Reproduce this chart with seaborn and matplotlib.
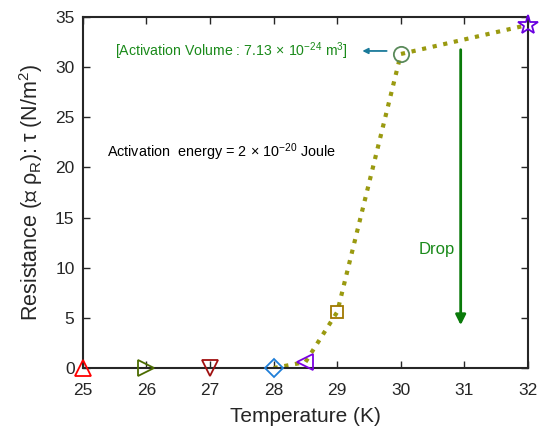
import matplotlib
matplotlib.use("Agg")
import matplotlib.pyplot as plt
import seaborn as sns
import pandas as pd

sns.set_theme(style="ticks")
plt.rcParams['font.family'] = ['Liberation Sans', 'DejaVu Sans']
plt.rcParams['mathtext.fontset'] = 'custom'
plt.rcParams['mathtext.rm'] = 'Liberation Sans'
plt.rcParams['mathtext.it'] = 'Liberation Sans:italic'

temps = [25, 26, 27, 28, 28.5, 29, 30, 32]
resist = [0, 0, 0, 0, 0.6, 5.6, 31.3, 34.2]
markers = ['^', '>', 'v', 'D', '<', 's', 'o', '*']
colors = ['#ff0000', '#4b6b00', '#a01010', '#1f7fd8', '#7a00e0', '#a07800', '#5a8a5a', '#6a00e0']
sizes = [11, 11, 11, 9, 11, 9, 11, 15]
line_t = [28, 28.5, 29, 30, 32]
line_r = [0, 0.6, 5.6, 31.3, 34.2]

fig = plt.figure(figsize=(5.45, 4.32), dpi=100)
ax = fig.add_axes([0.152, 0.148, 0.817, 0.813])

df_line = pd.DataFrame({'T': line_t, 'R': line_r})
sns.lineplot(data=df_line, x='T', y='R', ax=ax, color='#9a9a10', linestyle=(0, (1, 1.6)),
             linewidth=3, zorder=2)

for t, r, m, c, s in zip(temps, resist, markers, colors, sizes):
    ax.plot([t], [r], marker=m, markersize=s, markerfacecolor='none',
            markeredgecolor=c, markeredgewidth=1.3, linestyle='none', zorder=3, clip_on=False)

ax.set_xlim(25, 32)
ax.set_ylim(0, 35)
ax.set_xticks(range(25, 33))
ax.set_yticks(range(0, 36, 5))
ax.tick_params(direction='in', top=True, right=True, labelsize=12.5, length=5, width=1, pad=6)
ax.tick_params(axis='x', pad=11)
for sp in ax.spines.values():
    sp.set_linewidth(1.5)
    sp.set_visible(True)

ax.set_xlabel('Temperature (K)', fontsize=15, labelpad=6)
ax.set_ylabel('Resistance (∝ ρ$_\\mathrm{R}$): τ (N/m$^2$)', fontsize=15.5, labelpad=7)

ax.text(25.5, 31.6, r'[Activation Volume : 7.13$\,\times\,$10$^{-24}$ m$^3$]', color='#1a8a1a',
        fontsize=10.2, va='center', ha='left')
ax.annotate('', xy=(29.35, 31.6), xytext=(29.82, 31.6),
            arrowprops=dict(arrowstyle='-|>', color='#1a7a9a', lw=1.3, mutation_scale=8))
ax.text(25.38, 21.5, r'Activation  energy = 2$\,\times\,$10$^{-20}$ Joule', color='black',
        fontsize=10.4, va='center', ha='left')
ax.annotate('', xy=(30.94, 4.0), xytext=(30.94, 32.0),
            arrowprops=dict(arrowstyle='-|>', color='#0a7a0a', lw=2, mutation_scale=15))
ax.text(30.28, 11.8, 'Drop', color='#1a8a1a', fontsize=12, va='center', ha='left')

fig.savefig('out.png', dpi=100)
